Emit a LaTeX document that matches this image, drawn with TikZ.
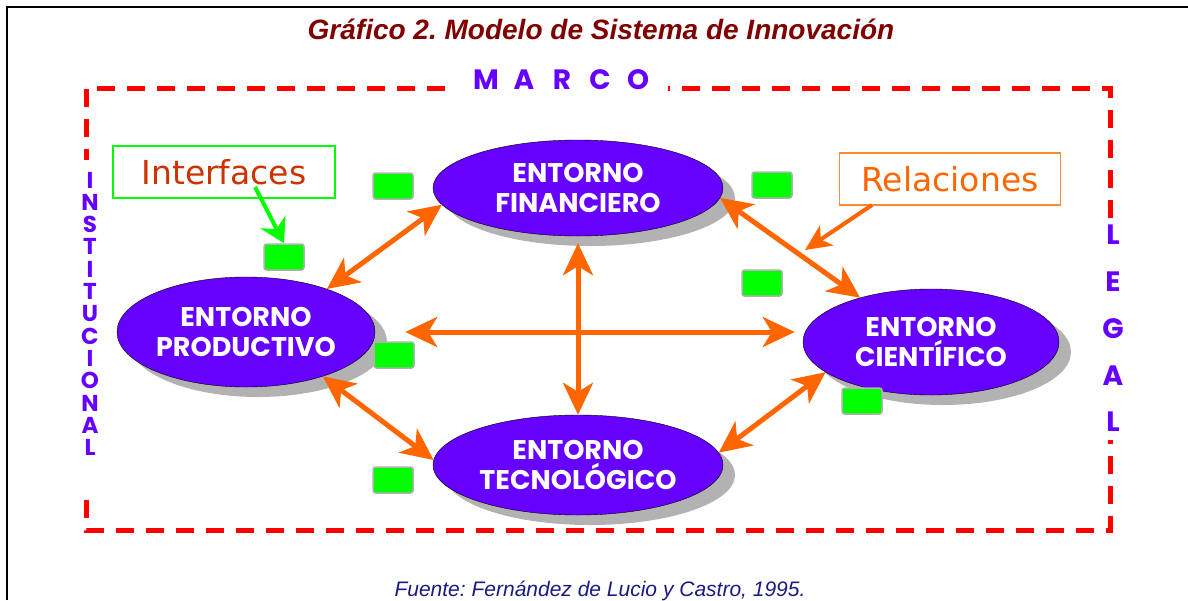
\documentclass[tikz,border=0pt]{standalone}
\usepackage{fontspec}
\setmainfont{Liberation Sans}
\newfontfamily\comicfont{Poppins}
\newfontfamily\labelfont{DejaVu Sans}
\usetikzlibrary{arrows.meta,shapes.geometric,shadows}
\definecolor{violeta}{HTML}{6600FF}
\definecolor{naranja}{HTML}{FF6600}
\definecolor{naranjaclaro}{HTML}{FF8833}
\definecolor{verde}{HTML}{00FF00}
\definecolor{granate}{HTML}{800000}
\definecolor{ladrillo}{HTML}{CC3300}
\definecolor{marino}{HTML}{1A1A80}
\begin{document}
\frenchspacing
\begin{tikzpicture}[x=1pt,y=-1pt,
    entorno/.style={ellipse,draw=black,thin,fill=violeta,text=white,align=center,inner sep=0pt,
        font=\comicfont\bfseries\fontsize{27}{30}\selectfont,
        drop shadow={shadow xshift=12pt,shadow yshift=-10pt,fill=black!30,opacity=1}},
    interfaz/.style={rectangle,rounded corners=2.5pt,fill=verde,draw=black!30,line width=1.5pt,
        minimum width=40pt,minimum height=26pt,inner sep=0pt},
    letra/.style={text=violeta,inner sep=0pt,font=\comicfont\bfseries\fontsize{28}{28}\selectfont},
    cartel/.style={rectangle,inner sep=0pt,minimum height=52pt,font=\labelfont\fontsize{33}{33}\selectfont},
    relacion/.style={draw=naranja,line width=5pt,{Stealth[length=32pt,width=30pt,inset=9pt]}-{Stealth[length=32pt,width=30pt,inset=9pt]}},
    marco/.style={draw=red,line width=5pt,dash pattern=on 18pt off 12pt}]
    \useasboundingbox (0,0) rectangle (1188,600);
    \draw[line width=2.5pt] (7,600) -- (7,7) -- (1188,7);

    \node[font=\bfseries\itshape\fontsize{28}{28}\selectfont,text=granate,anchor=base] (titulo) at (601,39) {Gráfico 2. Modelo de Sistema de Innovación};
    \node[font=\itshape\fontsize{21}{21}\selectfont,text=marino,anchor=base] (fuente) at (600,596) {Fuente: Fernández de Lucio y Castro, 1995.};

    \draw[marco] (445,88) -- (86,88) -- (86,160);
    \draw[marco] (86,500) -- (86,530) -- (1110,530) -- (1110,440);
    \draw[marco] (1110,218) -- (1110,88) -- (668,88);

    \foreach \l [count=\i] in {M,A,R,C,O}
        \node[letra] (mar\i) at (448+38*\i,80) {\l};
    \foreach \l [count=\i] in {I,N,S,T,I,T,U,C,I,O,N,A,L}
        \node[letra,font=\comicfont\bfseries\fontsize{23}{23}\selectfont] (ins\i) at (90,157.7+22.3*\i) {\l};
    \foreach \l [count=\i] in {L,E,G,A,L}
        \node[letra] (leg\i) at (1113,188.4+46.7*\i) {\l};

    \node[entorno,minimum width=290pt,minimum height=96pt] at (578,188) (fin) {ENTORNO\\FINANCIERO};
    \node[entorno,minimum width=258pt,minimum height=110pt] at (246,332) (pro) {ENTORNO\\PRODUCTIVO};
    \node[entorno,minimum width=256pt,minimum height=106pt] at (931,342) (cie) {ENTORNO\\CIENTÍFICO};
    \node[entorno,minimum width=290pt,minimum height=100pt] at (578,465) (tec) {ENTORNO\\TECNOLÓGICO};

    \node[interfaz] at (393,186) (i1) {};
    \node[interfaz] at (284,257) (i2) {};
    \node[interfaz] at (772,185) (i3) {};
    \node[interfaz] at (762,283) (i4) {};
    \node[interfaz] at (394,355) (i5) {};
    \node[interfaz] at (393,480) (i6) {};
    \node[interfaz] at (862,401) (i7) {};

    \node[cartel,draw=verde,line width=2pt,minimum width=222pt,text=ladrillo] at (224,172) (inter) {Interfaces};
    \node[cartel,draw=naranjaclaro,line width=1.5pt,minimum width=221pt,text=naranja] at (950,179) (rel) {Relaciones};
    \coordinate (pinter) at (255,187);
    \coordinate (prel) at (872,205);
    \coordinate (frel) at (805,250);

    \path
        (fin.187) edge[relacion] (pro.28)
        (fin.-4) edge[relacion] (cie.148)
        (pro.east) edge[relacion,shorten <=30pt,shorten >=8pt] (pro.east -| cie.west)
        (fin.south) edge[relacion,shorten <=7pt] (tec.north)
        (pro.-30) edge[relacion] (tec.178)
        (cie.196) edge[relacion] (tec.5)
        (prel) edge[draw=naranja,line width=4pt,-{Stealth[length=26pt,width=24pt,inset=7pt]}] (frel)
        (pinter) edge[draw=verde,line width=4pt,-{Stealth[length=24pt,width=28pt,inset=8pt]}] (i2.north)
        ;
\end{tikzpicture}
\end{document}
